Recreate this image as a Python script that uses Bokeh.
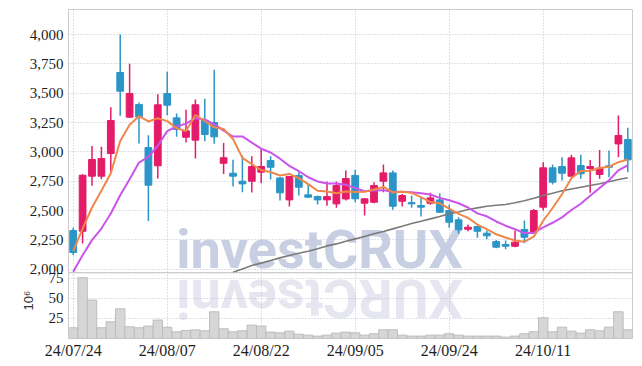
import math
from bokeh.plotting import figure
from bokeh.models import (Range1d, FixedTicker, ColumnDataSource, NumeralTickFormatter,
                          Grid, Span, Title)
from bokeh.core.properties import value
from bokeh.embed import file_html
from bokeh.resources import INLINE

# ---------------- data ----------------
dates = ["24/07/24", "24/07/25", "24/07/26", "24/07/29", "24/07/30", "24/07/31",
         "24/08/01", "24/08/02", "24/08/05", "24/08/06", "24/08/07", "24/08/08",
         "24/08/09", "24/08/12", "24/08/13", "24/08/14", "24/08/16", "24/08/19",
         "24/08/20", "24/08/21", "24/08/22", "24/08/23", "24/08/26", "24/08/27",
         "24/08/28", "24/08/29", "24/08/30", "24/09/02", "24/09/03", "24/09/04",
         "24/09/05", "24/09/06", "24/09/09", "24/09/10", "24/09/11", "24/09/12",
         "24/09/13", "24/09/19", "24/09/20", "24/09/23", "24/09/24", "24/09/25",
         "24/09/26", "24/09/27", "24/09/30", "24/10/02", "24/10/04", "24/10/07",
         "24/10/08", "24/10/10", "24/10/11", "24/10/14", "24/10/15", "24/10/16",
         "24/10/17", "24/10/18", "24/10/21", "24/10/22", "24/10/23", "24/10/24"]

opens = [2330, 2324, 2793, 2793, 2986, 3676, 3296, 3403, 3037, 2881,
         3497, 3290, 3125, 3100, 3270, 3250, 2903, 2818, 2750, 2750,
         2827, 2926, 2778, 2591, 2798, 2634, 2619, 2591, 2557, 2599,
         2799, 2563, 2571, 2750, 2821, 2580, 2568, 2543, 2563, 2591,
         2500, 2421, 2341, 2364, 2307, 2236, 2211, 2196, 2339, 2316,
         2529, 2864, 2875, 2793, 2884, 2858, 2807, 2881, 3068, 3105]
highs = [2353, 2810, 3051, 3043, 3381, 4000, 3750, 3421, 3142, 3492,
         3682, 3327, 3358, 3446, 3452, 3699, 3075, 2932, 2969, 2963,
         3025, 2963, 2785, 2795, 2827, 2722, 2628, 2747, 2747, 2841,
         2847, 2605, 2742, 2892, 2841, 2642, 2628, 2614, 2651, 2648,
         2552, 2443, 2381, 2370, 2330, 2250, 2245, 2330, 2415, 2514,
         2912, 2892, 2955, 2975, 2975, 2930, 3017, 3011, 3310, 3205]
lows = [2120, 2219, 2711, 2767, 2830, 3307, 3290, 3071, 2412, 2773,
        3313, 3128, 3080, 2943, 3090, 3069, 2812, 2704, 2656, 2653,
        2733, 2764, 2585, 2534, 2628, 2608, 2551, 2540, 2523, 2585,
        2571, 2458, 2563, 2657, 2506, 2534, 2523, 2449, 2549, 2480,
        2353, 2302, 2324, 2268, 2256, 2179, 2171, 2188, 2222, 2310,
        2500, 2722, 2756, 2790, 2770, 2651, 2770, 2784, 2955, 2827]
closes = [2143, 2801, 2935, 2943, 3267, 3517, 3497, 3298, 2716, 3401,
          3398, 3191, 3179, 3401, 3148, 3128, 2950, 2793, 2727, 2875,
          2875, 2869, 2651, 2790, 2699, 2614, 2591, 2619, 2713, 2773,
          2600, 2600, 2713, 2821, 2537, 2628, 2557, 2529, 2608, 2486,
          2401, 2336, 2358, 2324, 2285, 2188, 2196, 2231, 2273, 2500,
          2864, 2742, 2818, 2949, 2813, 2875, 2861, 2870, 3139, 2932]

# volume, in millions of shares
volume = [13.4, 75.9, 48.0, 13.4, 20.9, 37.1, 14.6, 13.4, 15.5, 23.0,
          14.0, 8.4, 10.0, 10.8, 9.6, 33.4, 12.1, 8.4, 9.6, 16.7,
          15.5, 8.0, 7.1, 9.2, 5.4, 4.2, 3.0, 4.2, 6.7, 8.0,
          7.1, 4.2, 5.9, 10.9, 10.9, 4.2, 3.0, 3.0, 4.2, 4.2,
          5.9, 4.2, 3.0, 3.0, 3.0, 3.0, 1.7, 3.0, 5.9, 8.4,
          25.9, 8.4, 14.2, 9.2, 6.7, 10.9, 9.6, 14.2, 33.4, 10.9]

# moving averages as drawn
ma5 = [2154, 2347, 2526, 2668, 2818, 3093, 3232, 3304, 3259, 3286,
       3262, 3201, 3177, 3314, 3263, 3209, 3195, 3110, 2949, 2895,
       2844, 2828, 2799, 2812, 2777, 2725, 2669, 2663, 2647, 2662,
       2659, 2661, 2680, 2701, 2654, 2660, 2651, 2614, 2572, 2562,
       2516, 2472, 2438, 2381, 2341, 2298, 2270, 2245, 2235, 2278,
       2413, 2522, 2639, 2775, 2837, 2839, 2863, 2874, 2912, 2935]
ma10 = [1978, 2120, 2248, 2347, 2475, 2631, 2767, 2909, 2958, 3052,
        3177, 3216, 3241, 3287, 3275, 3236, 3181, 3131, 3132, 3079,
        3027, 2995, 2942, 2881, 2836, 2784, 2748, 2731, 2730, 2719,
        2692, 2665, 2671, 2674, 2658, 2660, 2656, 2647, 2637, 2608,
        2588, 2562, 2526, 2476, 2451, 2407, 2371, 2341, 2308, 2309,
        2356, 2396, 2442, 2505, 2558, 2626, 2693, 2757, 2843, 2886]
nan = float("nan")
ma_long = [nan] * 17 + [
    1974, 2003, 2032, 2052, 2074, 2097, 2117, 2137, 2154, 2174,
    2199, 2216, 2239, 2259, 2279, 2302, 2321, 2344, 2367, 2390,
    2409, 2429, 2450, 2472, 2488, 2509, 2523, 2537, 2545, 2552,
    2566, 2583, 2605, 2628, 2648, 2668, 2684, 2699, 2713, 2728,
    2746, 2764, 2779]

price_ticks = [2000, 2250, 2500, 2750, 3000, 3250, 3500, 3750, 4000]
volume_ticks = [25, 50, 75]
volume_tick_labels = ["25", "50", "75"]
volume_unit = "10⁶"
date_tick_idx = [0, 10, 20, 30, 40, 50]
watermark = "investCRUX"

# ---------------- styling ----------------
RED = "#e41b68"
BLUE = "#2c95c7"
ORANGE = "#f0874a"
PURPLE = "#c955ea"
GRAY = "#7a7a7a"
GRID = "#bcc0d6"
LABEL_FONT = "Liberation Sans Narrow"
LABEL_COLOR = "#1e1e1e"

n = len(closes)
idx = list(range(n))
colors = [RED if c >= o else BLUE for o, c in zip(opens, closes)]
src = ColumnDataSource(dict(
    x=idx, high=highs, low=lows,
    top=[max(o, c) for o, c in zip(opens, closes)],
    bottom=[min(o, c) for o, c in zip(opens, closes)],
    color=colors))

# one frame: price panel on top, volume panel below the separator
PRICE_LO, PRICE_HI = 1410, 4213      # price scale over the whole frame
VOL_TOP = 411                         # volume scale over the whole frame
SEPARATOR = 1970                      # price level where the volume panel starts


def vol_pos(v):
    """position of a volume value on the price scale (for axis labels)"""
    return round(PRICE_LO + v * (PRICE_HI - PRICE_LO) / VOL_TOP, 1)


p = figure(width=640, height=364,
           x_range=Range1d(-0.5, n - 0.5), y_range=Range1d(PRICE_LO, PRICE_HI),
           output_backend="svg", toolbar_location=None,
           min_border_left=68, min_border_right=8, min_border_top=9, min_border_bottom=26)
p.extra_y_ranges = {"vol": Range1d(0, VOL_TOP)}
p.outline_line_color = "#cccccc"

for g in (p.xgrid, p.ygrid):
    g.grid_line_color = GRID
    g.grid_line_dash = "1 2"
    g.grid_line_width = 1
p.xgrid.ticker = FixedTicker(ticks=date_tick_idx)
p.ygrid.ticker = FixedTicker(ticks=price_ticks)
p.add_layout(Grid(dimension=1, ticker=FixedTicker(ticks=volume_ticks), y_range_name="vol",
                  grid_line_color=GRID, grid_line_dash="1 2", grid_line_width=1))

# left axis: price ticks plus the volume ticks of the lower panel
vol_tick_pos = [vol_pos(t) for t in volume_ticks]
p.yaxis.ticker = FixedTicker(ticks=price_ticks + vol_tick_pos)
p.yaxis.formatter = NumeralTickFormatter(format="0,0")
p.yaxis.major_label_overrides = {pos: lab for pos, lab in zip(vol_tick_pos, volume_tick_labels)}
p.yaxis.major_label_text_font = LABEL_FONT
p.yaxis.major_label_text_font_size = "15px"
p.yaxis.major_label_text_color = LABEL_COLOR
p.yaxis.axis_line_color = None
p.yaxis.major_tick_line_color = None
p.yaxis.minor_tick_line_color = None
p.yaxis.major_tick_out = 0
p.yaxis.major_tick_in = 0
p.yaxis.minor_tick_out = 0
p.yaxis.major_label_standoff = 5

p.xaxis.ticker = FixedTicker(ticks=date_tick_idx)
p.xaxis.major_label_overrides = {i: dates[i] for i in date_tick_idx}
p.xaxis.major_label_text_font = LABEL_FONT
p.xaxis.major_label_text_font_size = "16px"
p.xaxis.major_label_text_color = LABEL_COLOR
p.xaxis.major_label_standoff = 3
p.xaxis.axis_line_color = None
p.xaxis.major_tick_line_color = None
p.xaxis.minor_tick_line_color = None
p.xaxis.major_tick_out = 0
p.xaxis.major_tick_in = 0
p.xaxis.minor_tick_out = 0

# unit of the volume panel, beside its ticks
unit_title = Title(text=volume_unit, align="left", offset=28, standoff=0,
                   text_font="Liberation Sans", text_font_size="13px",
                   text_font_style="normal", text_color="#333333")
try:
    unit_title.standoff = -18
except Exception:
    pass
p.add_layout(unit_title, "left")

# watermark and its reflection (mirrored about the panel separator)
wm_x = (n - 1) * 0.444
p.text(x=[wm_x], y=[2440], text=[watermark], text_font=value("Roboto"),
       text_font_size="54px", text_font_style="bold", text_color="#c8cfe3",
       text_align="center", text_baseline="top", level="underlay")
p.text(x=[wm_x], y=[1485], text=[watermark[::-1]], angle=math.pi, text_font=value("Roboto"),
       text_font_size="54px", text_font_style="bold", text_color="#e5e6ef",
       text_align="center", text_baseline="top", level="underlay")

# volume bars
p.vbar(x=idx, top=volume, bottom=0, width=1.0, y_range_name="vol",
       fill_color="#d6d6d6", line_color="#bdbdbd", line_width=1)

# panel separator
p.add_layout(Span(location=SEPARATOR, dimension="width", line_color="#bdbdbd", line_width=1.2))

# candles
p.segment(x0="x", y0="high", x1="x", y1="low", line_color="color", line_width=1.5, source=src)
p.vbar(x="x", width=0.72, top="top", bottom="bottom", fill_color="color",
       line_color="color", line_width=1, source=src)

# moving averages
p.line(idx, ma_long, line_color=GRAY, line_width=1.6)
p.line(idx, ma10, line_color=PURPLE, line_width=2)
p.line(idx, ma5, line_color=ORANGE, line_width=2)

open("out.html", "w").write(file_html(p, INLINE))
